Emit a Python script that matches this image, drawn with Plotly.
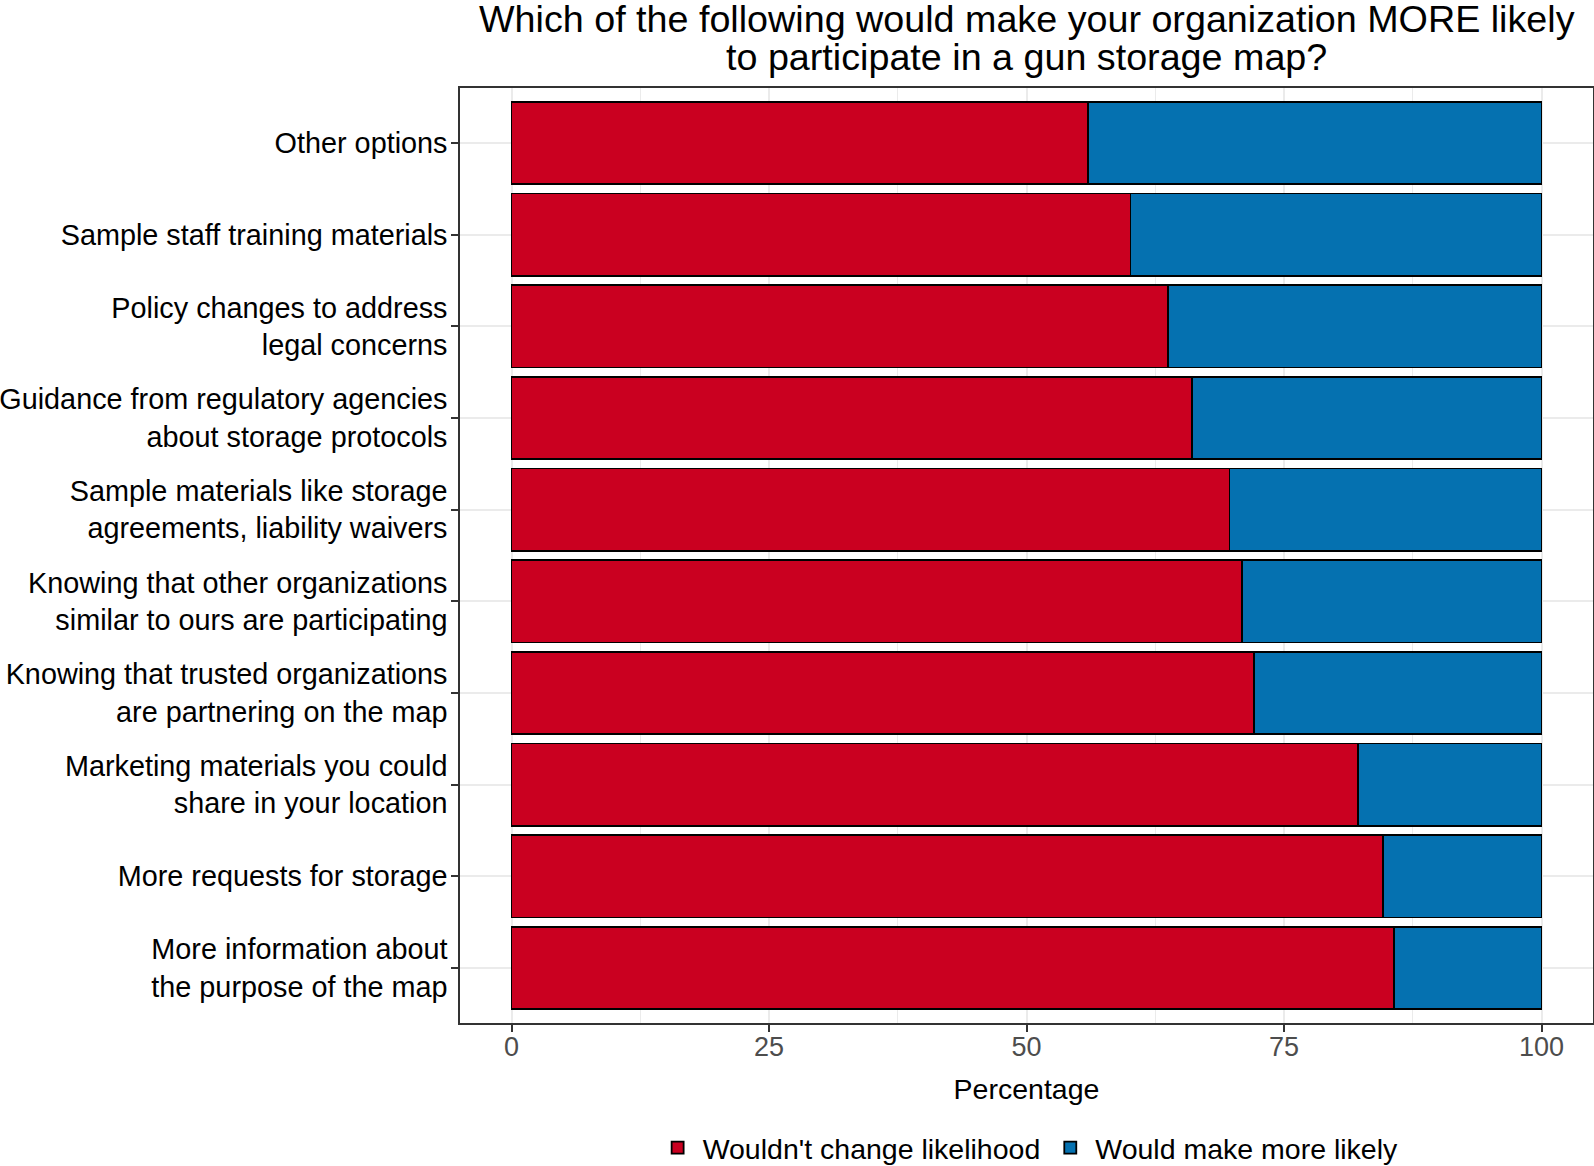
import plotly.graph_objects as go

categories = [
    "Other options",
    "Sample staff training materials",
    "Policy changes to address<br>legal concerns",
    "Guidance from regulatory agencies<br>about storage protocols",
    "Sample materials like storage<br>agreements, liability waivers",
    "Knowing that other organizations<br>similar to ours are participating",
    "Knowing that trusted organizations<br>are partnering on the map",
    "Marketing materials you could<br>share in your location",
    "More requests for storage",
    "More information about<br>the purpose of the map",
]
wouldnt_change = [56.0, 60.1, 63.7, 66.1, 69.7, 70.9, 72.1, 82.2, 84.6, 85.7]
more_likely = [round(100 - v, 1) for v in wouldnt_change]
series_names = ["Wouldn't change likelihood", "Would make more likely"]
series_colors = ["#CA0020", "#0571B0"]
x_ticks = [0, 25, 50, 75, 100]
title_lines = [
    "Which of the following would make your organization MORE likely",
    "to participate in a gun storage map?",
]

FONT = "Liberation Sans, Arial, sans-serif"

fig = go.Figure()
for name, vals, col in zip(series_names, [wouldnt_change, more_likely], series_colors):
    fig.add_trace(go.Bar(
        y=categories, x=vals, name=name, orientation="h",
        marker=dict(color=col, line=dict(color="#000000", width=1.8)),
    ))

fig.update_layout(
    barmode="stack",
    bargap=0.1,
    width=1594, height=1166,
    paper_bgcolor="white", plot_bgcolor="white",
    margin=dict(l=460, r=1, t=88, b=143, autoexpand=False),
    font=dict(family=FONT, size=28.5, color="#000000"),
    showlegend=True,
    legend=dict(
        orientation="h", xref="container", yref="container",
        x=0.645, xanchor="center", y=0.0154, yanchor="middle",
        font=dict(size=28.5, color="#000000"), traceorder="normal",
        itemwidth=40,
    ),
)

fig.update_xaxes(
    automargin=False,
    range=[-5, 105], tickvals=x_ticks, ticktext=[str(t) for t in x_ticks],
    ticks="outside", ticklen=7, tickwidth=1.5, tickcolor="#333333",
    tickfont=dict(size=27, color="#4D4D4D"),
    ticklabelstandoff=-8,
    showgrid=True, gridcolor="#EBEBEB", gridwidth=2,
    minor=dict(dtick=12.5, tick0=0, showgrid=True, gridcolor="#EBEBEB", gridwidth=1),
    showline=True, mirror=True, linecolor="#333333", linewidth=1.5,
    zeroline=False,
    title=dict(text="Percentage", font=dict(size=28.5, color="#000000"), standoff=18),
)
fig.update_yaxes(
    automargin=False,
    type="category", range=[9.6, -0.6],
    ticks="outside", ticklen=7, tickwidth=1.5, tickcolor="#333333",
    tickfont=dict(size=28.8, color="#000000"),
    ticklabelstandoff=-2,
    showgrid=True, gridcolor="#EBEBEB", gridwidth=2,
    showline=True, mirror=True, linecolor="#333333", linewidth=1.5,
    zeroline=False,
)

fig.add_annotation(text=title_lines[0], xref="paper", yref="paper", x=0.5, y=1.074,
                   xanchor="center", yanchor="middle", showarrow=False,
                   font=dict(size=37.7, color="#000000", family=FONT))
fig.add_annotation(text=title_lines[1], xref="paper", yref="paper", x=0.5, y=1.0335,
                   xanchor="center", yanchor="middle", showarrow=False,
                   font=dict(size=37.7, color="#000000", family=FONT))

fig.write_html(
    "out.html",
    config={"displayModeBar": False},
    post_script="document.body.style.margin='0';document.body.style.overflow='hidden';",
)
